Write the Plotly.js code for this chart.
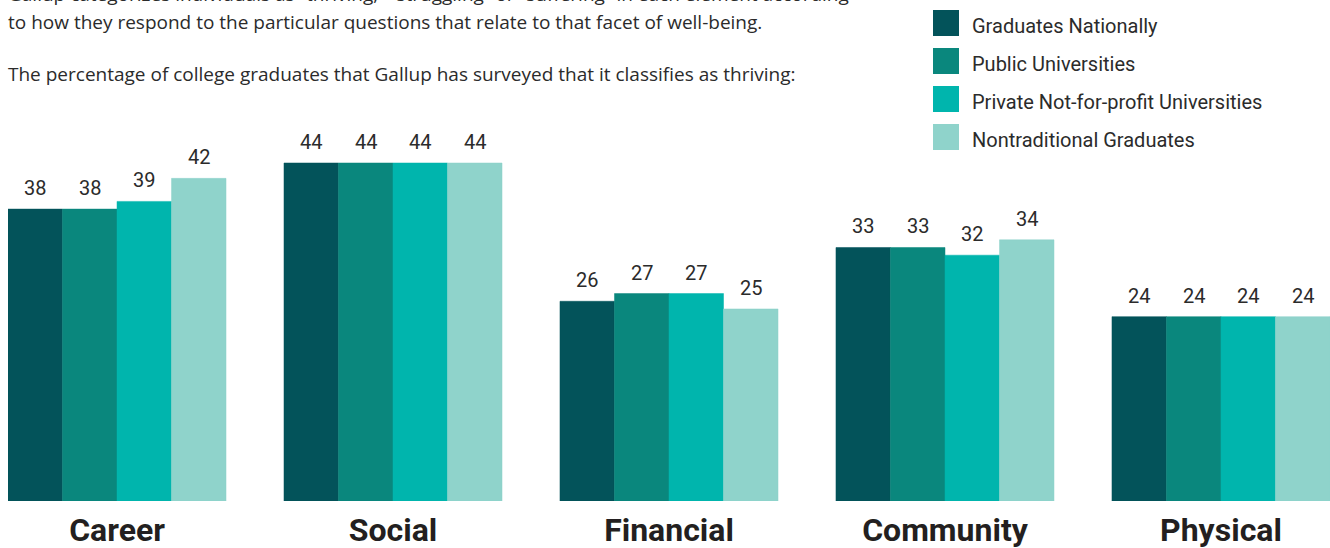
<!DOCTYPE html>
<html>
<head>
<meta charset="utf-8">
<script src="https://cdn.plot.ly/plotly-3.0.1.min.js"></script>
<style>html,body{margin:0;padding:0;background:#fff;}#chart{width:1330px;height:548px;}</style>
</head>
<body>
<div id="chart"></div>
<script>
const categories = ['Career', 'Social', 'Financial', 'Community', 'Physical'];
const seriesNames = ['Graduates Nationally', 'Public Universities', 'Private Not-for-profit Universities', 'Nontraditional Graduates'];
const gradsNationally = [38, 44, 26, 33, 24];
const publicUniversities = [38, 44, 27, 33, 24];
const privateNotForProfit = [39, 44, 27, 32, 24];
const nontraditionalGrads = [42, 44, 25, 34, 24];
const introLines = [
  'Gallup categorizes individuals as \u201cthriving,\u201d \u201cstruggling\u201d or \u201csuffering\u201d in each element according',
  'to how they respond to the particular questions that relate to that facet of well-being.',
  'The percentage of college graduates that Gallup has surveyed that it classifies as thriving:'
];

const seriesValues = [gradsNationally, publicUniversities, privateNotForProfit, nontraditionalGrads];
const colors = ['#03535a', '#0a877d', '#00b5ad', '#8fd3cb'];
const textColor = '#2b2b2b';

const W = 1330, H = 548;
const M = {l: 8, r: 0, t: 79, b: 47};
const plotW = W - M.l - M.r, plotH = H - M.t - M.b;
const px2x = p => (p - M.l) / plotW;
const px2y = p => 1 + (M.t - p) / plotH;

const bargap = 0.21;
const barW = (1 - bargap) / seriesValues.length;

const traces = seriesValues.map((vals, j) => ({
  type: 'bar',
  name: seriesNames[j],
  x: categories,
  y: vals,
  marker: {color: colors[j], line: {width: 0.5, color: colors[j]}},
  hoverinfo: 'none'
}));

const annotations = [];
seriesValues.forEach((vals, j) => {
  vals.forEach((v, i) => {
    annotations.push({
      xref: 'x', yref: 'y',
      x: i + (j - (seriesValues.length - 1) / 2) * barW,
      y: v, yanchor: 'middle', yshift: 21,
      text: String(v), showarrow: false,
      font: {family: 'Roboto', size: 20, color: textColor}
    });
  });
});

// intro paragraph
const introY = [-6, 22, 74];
introLines.forEach((t, k) => {
  annotations.push({
    xref: 'paper', yref: 'paper',
    x: px2x(6), xanchor: 'left',
    y: px2y(introY[k]), yanchor: 'middle',
    text: t, showarrow: false,
    font: {family: 'Open Sans', size: 19, color: textColor}
  });
});

// legend
const shapes = [];
const legendTop = [10, 48, 86, 124];
seriesNames.forEach((name, j) => {
  shapes.push({
    type: 'rect', xref: 'paper', yref: 'paper',
    x0: px2x(933), x1: px2x(959),
    y0: px2y(legendTop[j] + 26), y1: px2y(legendTop[j]),
    fillcolor: colors[j], line: {width: 0}
  });
  annotations.push({
    xref: 'paper', yref: 'paper',
    x: px2x(970), xanchor: 'left',
    y: px2y(legendTop[j] + 16), yanchor: 'middle',
    text: name, showarrow: false,
    font: {family: 'Roboto', size: 20, color: textColor}
  });
});

const layout = {
  width: W, height: H,
  margin: M,
  paper_bgcolor: '#fff', plot_bgcolor: '#fff',
  showlegend: false,
  barmode: 'group',
  bargap: bargap, bargroupgap: 0,
  xaxis: {
    type: 'category',
    range: [-0.395, 4.395],
    showgrid: false, zeroline: false, showline: false, ticks: '',
    ticklabelstandoff: 7,
    tickfont: {family: 'Roboto', size: 32, weight: 700, color: '#231f20'},
    fixedrange: true
  },
  yaxis: {
    range: [0, plotH / 7.682],
    visible: false, showgrid: false, zeroline: false,
    fixedrange: true
  },
  annotations: annotations,
  shapes: shapes
};

Plotly.newPlot('chart', traces, layout, {displayModeBar: false, staticPlot: true});
</script>
</body>
</html>
